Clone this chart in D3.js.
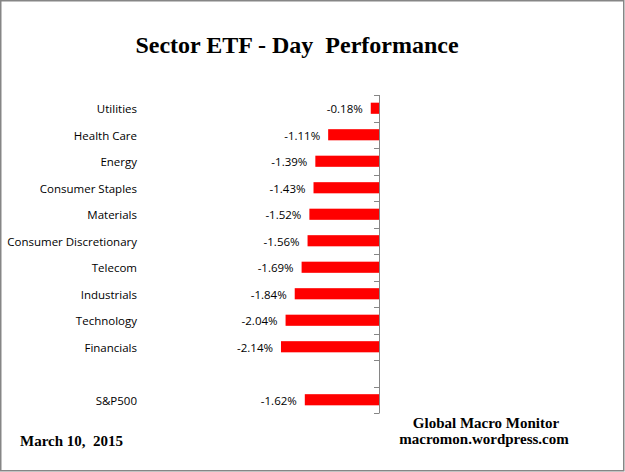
<!DOCTYPE html>
<html>
<head>
<meta charset="utf-8">
<script src="https://cdn.jsdelivr.net/npm/d3@7"></script>
<style>
body { margin: 0; background: #fff; }
</style>
</head>
<body>
<svg id="chart" width="625" height="472"></svg>
<script>
const categories = ['Utilities', 'Health Care', 'Energy', 'Consumer Staples', 'Materials',
    'Consumer Discretionary', 'Telecom', 'Industrials', 'Technology', 'Financials', '', 'S&P500'];
const values = [-0.18, -1.11, -1.39, -1.43, -1.52, -1.56, -1.69, -1.84, -2.04, -2.14, null, -1.62];
const valueLabels = ['-0.18%', '-1.11%', '-1.39%', '-1.43%', '-1.52%', '-1.56%', '-1.69%',
    '-1.84%', '-2.04%', '-2.14%', '', '-1.62%'];

const svg = d3.select('#chart');
const axisX = 379, plotTop = 95, plotBottom = 413;
const serif = '"Liberation Serif", "Times New Roman", serif';
const sans = '"Open Sans", "DejaVu Sans", sans-serif';

// frame
svg.append('rect')
    .attr('x', 0.75).attr('y', 0.75)
    .attr('width', 623).attr('height', 470)
    .style('fill', 'none')
    .style('stroke', '#868686')
    .style('stroke-width', 1.5);

svg.append('text')
    .attr('x', 297).attr('y', 53)
    .attr('text-anchor', 'middle')
    .style('font-family', serif)
    .style('font-weight', 'bold')
    .style('font-size', '24px')
    .style('white-space', 'pre')
    .text('Sector ETF - Day  Performance');

let x = d3.scaleLinear().domain([-2.5, 0]).range([axisX - 2.5 * 45.8, axisX]);
let keys = categories.map((c, i) => i);
let y = d3.scaleBand().domain(keys).range([plotTop, plotBottom]).paddingInner(0.58).paddingOuter(0.29);
let yb = d3.scaleBand().domain(keys).range([plotTop, plotBottom]);

svg.selectAll('.bar')
    .data(keys.filter(i => values[i] !== null))
    .enter()
    .append('rect')
    .attr('class', 'bar')
    .attr('x', i => x(values[i]))
    .attr('width', i => x(0) - x(values[i]))
    .attr('y', i => y(i))
    .attr('height', y.bandwidth())
    .style('fill', '#ff0000');

svg.selectAll('.val')
    .data(keys.filter(i => values[i] !== null))
    .enter()
    .append('text')
    .attr('class', 'val')
    .attr('x', i => x(values[i]) - 8)
    .attr('y', i => yb(i) + yb.bandwidth() / 2 + 1)
    .attr('dy', '0.35em')
    .attr('text-anchor', 'end')
    .style('font-family', sans)
    .style('font-size', '11.5px')
    .style('fill', '#000')
    .text(i => valueLabels[i]);

svg.selectAll('.cat')
    .data(keys)
    .enter()
    .append('text')
    .attr('class', 'cat')
    .attr('x', 137)
    .attr('y', i => yb(i) + yb.bandwidth() / 2 + 1)
    .attr('dy', '0.35em')
    .attr('text-anchor', 'end')
    .style('font-family', sans)
    .style('font-size', '11.5px')
    .style('fill', '#000')
    .text(i => categories[i]);

// vertical axis with ticks at band boundaries
let ticks = keys.map(i => yb(i)).concat([plotBottom]);
svg.append('line')
    .attr('x1', axisX + 0.5).attr('x2', axisX + 0.5)
    .attr('y1', plotTop).attr('y2', plotBottom)
    .style('stroke', '#868686');
svg.selectAll('.tick')
    .data(ticks)
    .enter()
    .append('line')
    .attr('x1', axisX - 5).attr('x2', axisX + 0.5)
    .attr('y1', d => Math.round(d) + 0.5)
    .attr('y2', d => Math.round(d) + 0.5)
    .style('stroke', '#868686');

svg.append('text')
    .attr('x', 486).attr('y', 428)
    .attr('text-anchor', 'middle')
    .style('font-family', serif).style('font-weight', 'bold').style('font-size', '15px')
    .text('Global Macro Monitor');
svg.append('text')
    .attr('x', 484).attr('y', 444)
    .attr('text-anchor', 'middle')
    .style('font-family', serif).style('font-weight', 'bold').style('font-size', '15px')
    .text('macromon.wordpress.com');
svg.append('text')
    .attr('x', 20).attr('y', 446)
    .style('font-family', serif).style('font-weight', 'bold').style('font-size', '15px')
    .style('white-space', 'pre')
    .text('March 10,  2015');
</script>
</body>
</html>
